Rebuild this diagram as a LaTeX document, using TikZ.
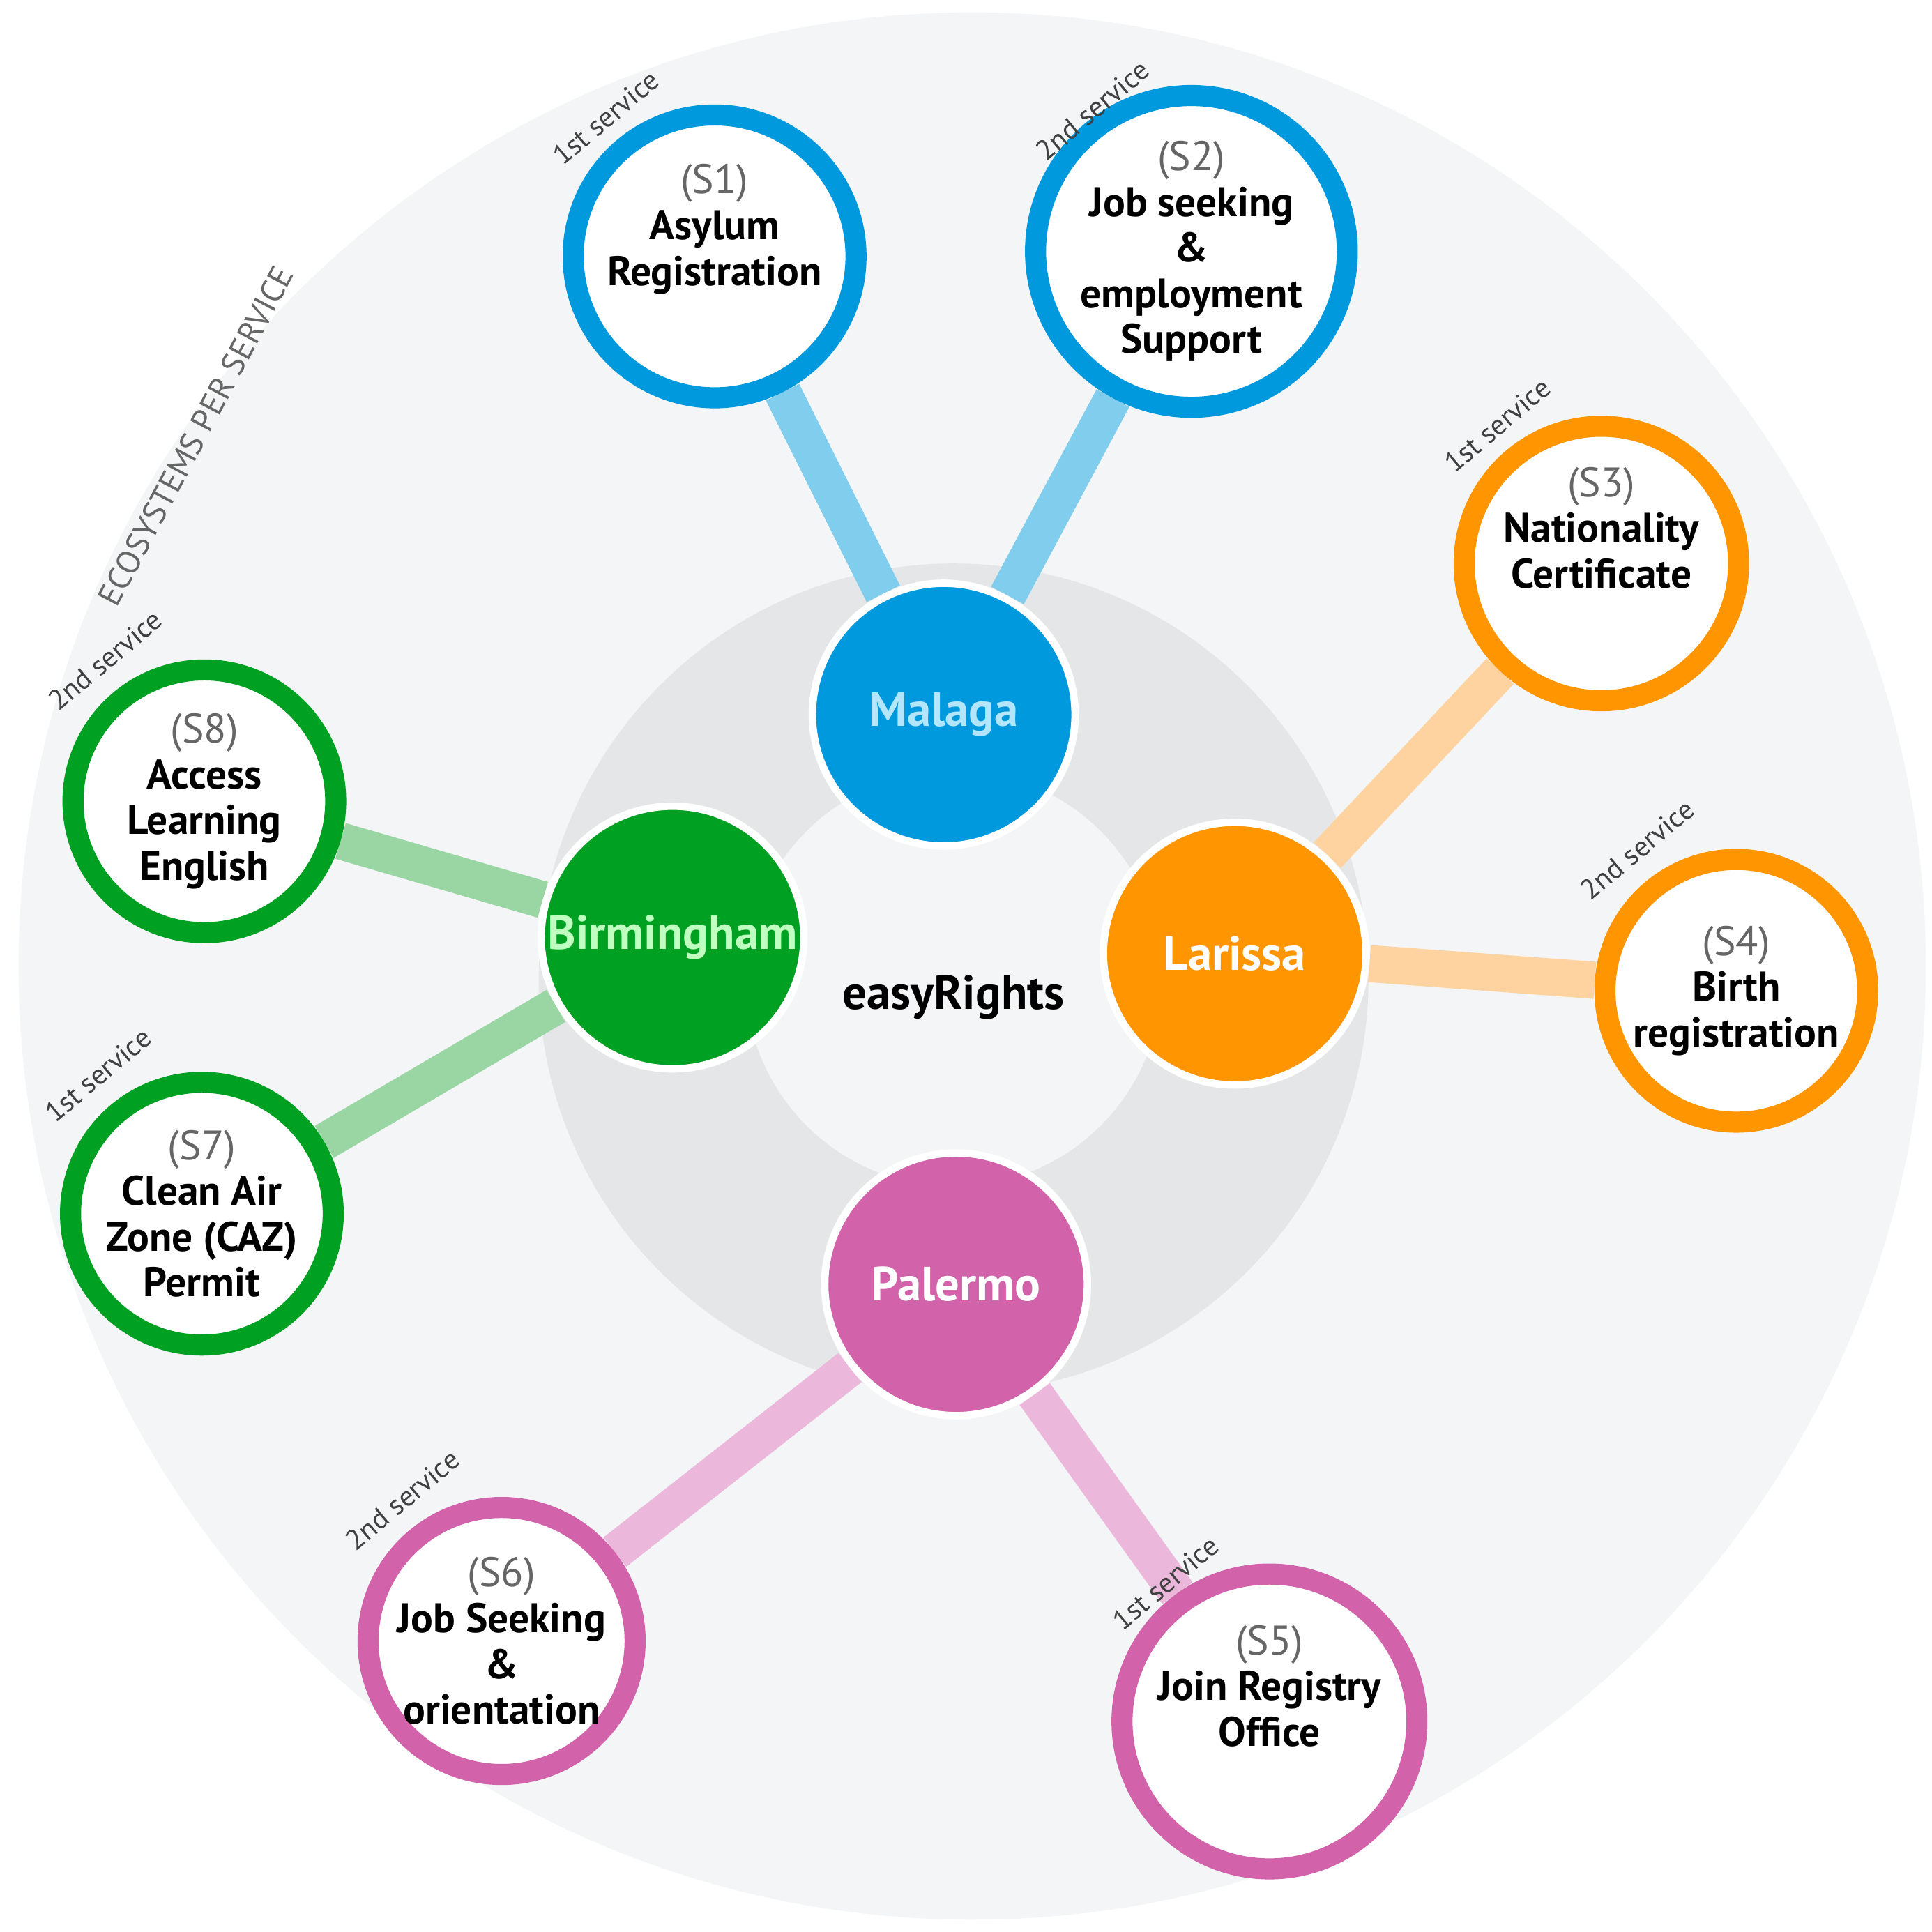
\documentclass[tikz,border=0pt]{standalone}
\usepackage{fontspec}
\setmainfont{PT Sans}
\usetikzlibrary{calc}
\pgfdeclarelayer{back}\pgfdeclarelayer{mid}
\pgfsetlayers{back,mid,main}
\definecolor{cblue}{HTML}{0099DD}\definecolor{lblue}{HTML}{80CDEE}
\definecolor{corange}{HTML}{FF9500}\definecolor{lorange}{HTML}{FFD3A0}
\definecolor{cgreen}{HTML}{00A023}\definecolor{lgreen}{HTML}{9AD6A4}
\definecolor{cpink}{HTML}{D262AA}\definecolor{lpink}{HTML}{EBB7DA}
\definecolor{bgc}{HTML}{F4F5F6}\definecolor{ringc}{HTML}{E5E6E8}
\tikzset{
 svc/.style={circle,draw=#1,line width=0.17cm,fill=white,minimum size=2.12cm,inner sep=0pt,align=center,
   font=\fontsize{9.5}{10.5}\selectfont\bfseries},
 city/.style={circle,fill=#1,draw=white,line width=0.06cm,minimum size=2.12cm,inner sep=0pt,
   font=\fontsize{11}{12}\selectfont\bfseries},
 conn/.style={line width=0.3cm,draw=#1},
 lab/.style={font=\fontsize{6.5}{7}\selectfont,text=black!75,rotate=40},
}
\newcommand{\sno}[1]{{\fontsize{9.5}{10.5}\selectfont\mdseries\color{black!60}#1}}
\begin{document}
\begin{tikzpicture}[x=0.01cm,y=-0.01cm]
\useasboundingbox (0,0) rectangle (1560,1560);
\begin{pgfonlayer}{back}
\fill[white] (0,0) rectangle (1560,1560);
\fill[bgc] (785,780) circle (770);
\fill[ringc] (770,790) circle (335);
\fill[bgc] (770,790) circle (168);
\end{pgfonlayer}
\node[rotate=62,font=\fontsize{7.5}{8}\selectfont,text=black!60] (eco) at (158,352) {ECOSYSTEMS PER SERVICE};
\node[city=cblue,text=cyan!30] (mal) at (762,577) {Malaga};
\node[city=cgreen,text=green!25] (bir) at (543,757) {Birmingham};
\node[city=corange,text=white] (lar) at (997,770) {Larissa};
\node[city=cpink,text=white] (pal) at (772,1037) {Palermo};
\node[font=\fontsize{11}{12}\selectfont\bfseries] (er) at (770,805) {easyRights};
\node[svc=cblue] (s1) at (577,207) {\sno{(S1)}\\Asylum\\Registration\\[4pt]};
\node[svc=cblue] (s2) at (962,203) {\sno{(S2)}\\Job seeking\\\&\\employment\\Support};
\node[svc=corange] (s3) at (1293,455) {\sno{(S3)}\\Nationality\\Certificate\\[6pt]};
\node[svc=corange] (s4) at (1402,800) {\sno{(S4)}\\Birth\\registration};
\node[svc=cpink] (s5) at (1025,1390) {\sno{(S5)}\\Join Registry\\Office\\[6pt]};
\node[svc=cpink] (s6) at (405,1325) {\sno{(S6)}\\Job Seeking\\\&\\orientation};
\node[svc=cgreen] (s7) at (163,980) {\sno{(S7)}\\Clean Air\\Zone (CAZ)\\Permit};
\node[svc=cgreen] (s8) at (165,647) {\sno{(S8)}\\Access\\Learning\\English};
\begin{pgfonlayer}{mid}
\draw[conn=lblue] (mal) -- (s1); \draw[conn=lblue] (mal) -- (s2);
\draw[conn=lorange] (lar) -- (s3); \draw[conn=lorange] (lar) -- (s4);
\draw[conn=lpink] (pal) -- (s5); \draw[conn=lpink] (pal) -- (s6);
\draw[conn=lgreen] (bir) -- (s7); \draw[conn=lgreen] (bir) -- (s8);
\end{pgfonlayer}
\node[lab] (l1) at ($(s1)+(-88,-112)$) {1st service};
\node[lab] (l2) at ($(s2)+(-80,-114)$) {2nd service};
\node[lab] (l3) at ($(s3)+(-84,-112)$) {1st service};
\node[lab] (l4) at ($(s4)+(-80,-114)$) {2nd service};
\node[lab] (l5) at ($(s5)+(-84,-112)$) {1st service};
\node[lab] (l6) at ($(s6)+(-80,-114)$) {2nd service};
\node[lab] (l7) at ($(s7)+(-84,-112)$) {1st service};
\node[lab] (l8) at ($(s8)+(-80,-114)$) {2nd service};
\end{tikzpicture}
\end{document}
